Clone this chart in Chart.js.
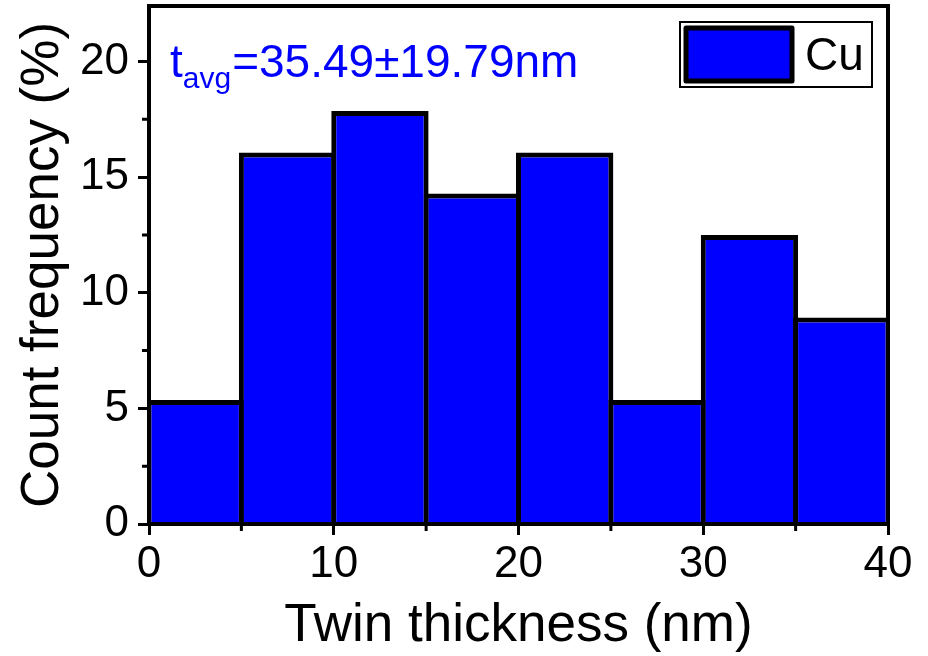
<!DOCTYPE html>
<html lang="en">
<head>
<meta charset="UTF-8">
<title>Twin thickness - Cu</title>
<script src="https://cdn.jsdelivr.net/npm/chart.js@4.4.1/dist/chart.umd.min.js"></script>
<style>
    html, body { margin: 0; padding: 0; background: #fff; }
</style>
</head>
<body>
<canvas id="histChart" width="928" height="656"></canvas>
<script>
// Données de l'histogramme (classes de 5 nm)
const binCenters = [2.5, 7.5, 12.5, 17.5, 22.5, 27.5, 32.5, 37.5];
const frequency = [5.36, 16.07, 17.86, 14.29, 16.07, 5.36, 12.50, 8.93];
const xTicks = [0, 10, 20, 30, 40];
const xMinorTicks = [5, 15, 25, 35];
const yTicks = [0, 5, 10, 15, 20];
const yMinorTicks = [2.5, 7.5, 12.5, 17.5];
const seriesLabel = 'Cu';
const avgText = ['t', 'avg', '=35.49±19.79nm'];

const FONT = '"Liberation Sans", Arial, sans-serif';
const BLUE = '#0000ff';

// Cadre, petites graduations, annotation et légende
const framePlugin = {
    id: 'frame',
    afterDraw(chart) {
        const ctx = chart.ctx;
        const { left, top, right, bottom } = chart.chartArea;
        const xs = chart.scales.x;
        const ys = chart.scales.y;

        ctx.save();
        ctx.strokeStyle = '#000';
        ctx.lineWidth = 4;
        ctx.strokeRect(left, top, right - left, bottom - top);

        ctx.lineWidth = 3;
        ctx.beginPath();
        xMinorTicks.forEach(v => {
            const px = xs.getPixelForValue(v);
            ctx.moveTo(px, bottom);
            ctx.lineTo(px, bottom + 7);
        });
        yMinorTicks.forEach(v => {
            const py = ys.getPixelForValue(v);
            ctx.moveTo(left, py);
            ctx.lineTo(left - 7, py);
        });
        ctx.stroke();

        // t_avg en bleu
        ctx.fillStyle = BLUE;
        ctx.textBaseline = 'alphabetic';
        ctx.textAlign = 'left';
        let tx = left + 21;
        const base = top + 71;
        ctx.font = '46px ' + FONT;
        ctx.fillText(avgText[0], tx, base);
        tx += ctx.measureText(avgText[0]).width;
        ctx.font = '30px ' + FONT;
        ctx.fillText(avgText[1], tx, base + 11);
        tx += ctx.measureText(avgText[1]).width + 1;
        ctx.font = '46px ' + FONT;
        ctx.fillText(avgText[2], tx, base);

        // légende
        const ds = chart.data.datasets[0];
        const bx = right - 208, by = top + 16;
        ctx.lineWidth = 2;
        ctx.strokeStyle = '#000';
        ctx.strokeRect(bx, by, 192, 65);
        ctx.fillStyle = ds.backgroundColor;
        ctx.fillRect(bx + 6, by + 6, 106, 53);
        ctx.lineWidth = 5;
        ctx.lineJoin = 'round';
        ctx.strokeRect(bx + 6, by + 6, 106, 53);
        ctx.fillStyle = '#000';
        ctx.font = '46px ' + FONT;
        ctx.fillText(ds.label, bx + 125, by + 48);
        ctx.restore();
    }
};

const ctx = document.getElementById('histChart').getContext('2d');
new Chart(ctx, {
    type: 'bar',
    data: {
        datasets: [{
            label: seriesLabel,
            data: binCenters.map((c, i) => ({ x: c, y: frequency[i] })),
            backgroundColor: BLUE,
            borderColor: '#000',
            borderWidth: { top: 5, left: 5, right: 5, bottom: 0 },
            borderSkipped: 'start',
            barPercentage: 1.054,
            categoryPercentage: 1,
            inflateAmount: 0
        }]
    },
    options: {
        responsive: false,
        animation: false,
        layout: { padding: { left: 0, top: 6, right: 40, bottom: 0 } },
        plugins: {
            legend: { display: false },
            tooltip: { enabled: false }
        },
        scales: {
            x: {
                type: 'linear',
                min: 0,
                max: 40,
                offset: false,
                afterBuildTicks: s => { s.ticks = xTicks.map(v => ({ value: v })); },
                afterFit: s => { s.height = 132; },
                grid: { drawOnChartArea: false, offset: false, tickLength: 11, tickWidth: 3, tickColor: '#000' },
                border: { display: true, color: '#000', width: 4 },
                ticks: { color: '#000', padding: 3, maxRotation: 0, autoSkip: false, font: { family: FONT, size: 44 } },
                title: {
                    display: true,
                    text: 'Twin thickness (nm)',
                    color: '#000',
                    font: { family: FONT, size: 53, lineHeight: 1 },
                    padding: { top: 0, bottom: 3 }
                }
            },
            y: {
                type: 'linear',
                min: 0,
                max: 22.4,
                afterBuildTicks: s => { s.ticks = yTicks.map(v => ({ value: v })); },
                afterFit: s => { s.width = 149; s.paddingTop = 0; },
                grid: { drawOnChartArea: false, tickLength: 11, tickWidth: 3, tickColor: '#000' },
                border: { display: true, color: '#000', width: 4 },
                ticks: { color: '#000', padding: 9, font: { family: FONT, size: 44 } },
                title: {
                    display: true,
                    text: 'Count frequency (%)',
                    color: '#000',
                    font: { family: FONT, size: 53, lineHeight: 1 },
                    padding: { top: 17, bottom: 0 }
                }
            }
        }
    },
    plugins: [framePlugin]
});
</script>
</body>
</html>
